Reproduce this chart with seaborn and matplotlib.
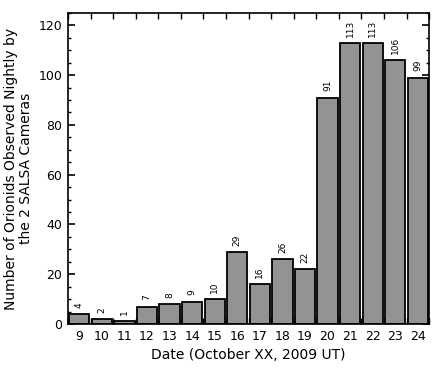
import matplotlib
matplotlib.use("Agg")
import matplotlib.pyplot as plt
from matplotlib.ticker import MultipleLocator
import numpy as np
import pandas as pd
import seaborn as sns

sns.set_theme(style="ticks")
plt.rcParams["font.family"] = ["DejaVu Sans"]
plt.rcParams.update({"text.color": "black", "axes.labelcolor": "black",
                     "xtick.color": "black", "ytick.color": "black",
                     "axes.edgecolor": "black"})

days = [9, 10, 11, 12, 13, 14, 15, 16, 17, 18, 19, 20, 21, 22, 23, 24]
counts = [4, 2, 1, 7, 8, 9, 10, 29, 16, 26, 22, 91, 113, 113, 106, 99]

df = pd.DataFrame({"day": [str(d) for d in days], "count": counts})

fig = plt.figure(figsize=(4.33, 3.69), dpi=100)
ax = fig.add_axes([0.157, 0.122, 0.834, 0.843])

sns.barplot(data=df, x="day", y="count", color="#939393", saturation=1,
            width=0.9, edgecolor="black", linewidth=1.3, ax=ax)

for i, c in enumerate(counts):
    ax.text(i, c + 2.5, str(c), rotation=90, ha="center", va="bottom", fontsize=6.5)

ax.set_ylim(0, 125)
ax.set_xlim(-0.5, len(days) - 0.5)
ax.yaxis.set_major_locator(MultipleLocator(20))
ax.yaxis.set_minor_locator(MultipleLocator(5))
ax.set_xticks(np.arange(len(days)))
ax.set_xticks(np.arange(-0.5, len(days), 1), minor=True)
ax.tick_params(axis="both", which="major", direction="in", length=0, labelsize=9, pad=4,
               top=False, right=False)
ax.tick_params(axis="y", which="major", length=5, width=1.2, right=True)
ax.tick_params(axis="y", which="minor", direction="in", length=2.5, width=1, right=True, left=True)
ax.tick_params(axis="x", which="minor", direction="in", length=4, width=1, top=True, bottom=True)
for s in ax.spines.values():
    s.set_linewidth(1.2)

ax.set_xlabel("Date (October XX, 2009 UT)", fontsize=10)
ax.set_ylabel("Number of Orionids Observed Nightly by\nthe 2 SALSA Cameras", fontsize=10,
              linespacing=1.1)

fig.savefig("out.png", dpi=100)
